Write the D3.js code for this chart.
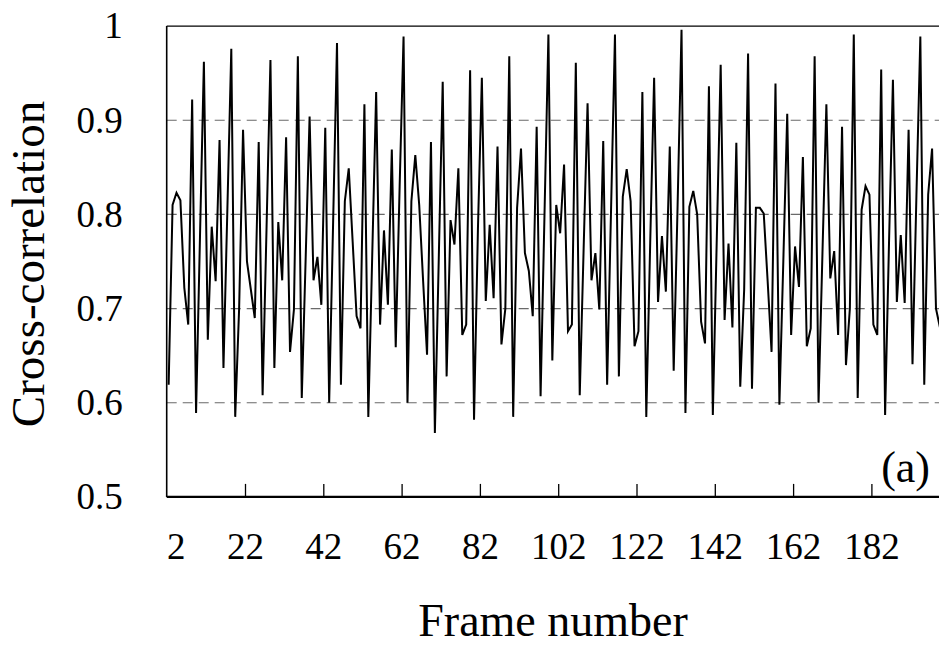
<!DOCTYPE html>
<html><head><meta charset="utf-8">
<script src="https://cdn.jsdelivr.net/npm/d3@7/dist/d3.min.js"></script>
<style>body{margin:0;background:#fff}svg{display:block}</style>
</head><body><svg id="c" width="939" height="652"></svg>
<script>
const firstFrame = 2;
const values = [
0.619,0.810,0.823,0.815,0.722,0.683,0.922,0.589,0.776,0.962,
0.667,0.787,0.729,0.879,0.637,0.806,0.976,0.585,0.700,0.890,
0.750,0.720,0.690,0.877,0.608,0.785,0.964,0.637,0.792,0.730,
0.882,0.654,0.699,0.968,0.605,0.754,0.904,0.730,0.755,0.704,
0.892,0.600,0.790,0.982,0.619,0.814,0.849,0.771,0.692,0.679,
0.917,0.585,0.757,0.930,0.683,0.783,0.704,0.869,0.659,0.830,
0.989,0.600,0.814,0.863,0.810,0.729,0.651,0.877,0.568,0.754,
0.941,0.628,0.794,0.768,0.849,0.672,0.683,0.953,0.582,0.785,
0.945,0.708,0.789,0.711,0.872,0.662,0.700,0.968,0.585,0.807,
0.870,0.759,0.740,0.692,0.893,0.607,0.800,0.991,0.645,0.810,
0.780,0.853,0.676,0.683,0.961,0.608,0.764,0.918,0.730,0.759,
0.699,0.878,0.619,0.805,0.991,0.628,0.819,0.848,0.814,0.660,
0.676,0.930,0.585,0.770,0.945,0.707,0.777,0.718,0.872,0.634,
0.810,0.996,0.589,0.808,0.825,0.800,0.686,0.663,0.936,0.587,
0.773,0.959,0.688,0.769,0.680,0.876,0.617,0.720,0.971,0.615,
0.807,0.807,0.801,0.729,0.654,0.939,0.598,0.750,0.907,0.672,
0.766,0.723,0.861,0.660,0.679,0.968,0.600,0.759,0.917,0.732,
0.761,0.672,0.893,0.640,0.700,0.991,0.605,0.805,0.830,0.821,
0.683,0.672,0.954,0.587,0.770,0.943,0.707,0.778,0.706,0.890,
0.641,0.820,0.989,0.619,0.821,0.870,0.700,0.680
];
const frames = values.map((v,i)=>firstFrame+i);
const xTickFrames = [2,22,42,62,82,102,122,142,162,182];
const yTicks = [0.5,0.6,0.7,0.8,0.9,1];
const yTickLabels = ["0.5","0.6","0.7","0.8","0.9","1"];
const gridVals = [0.6,0.7,0.8,0.9];

(function(){
const svg = d3.select("#c");
const W = 3.915;
const pLeft = 166.7, pTop = 26.1, pBottom = 496.9;
const x = d3.scaleLinear().domain([firstFrame-0.5, firstFrame-0.5+200]).range([pLeft, pLeft+200*W]);
const y = d3.scaleLinear().domain([0.5,1]).range([pBottom, pTop]);
const pRight = x.range()[1];
const font = "'Liberation Serif','Times New Roman',serif";

svg.append("g").selectAll("line").data(gridVals).join("line")
  .attr("x1", pLeft).attr("x2", pRight)
  .attr("y1", d=>y(d)).attr("y2", d=>y(d))
  .attr("stroke","#6a6a6a").attr("stroke-width",1.2).attr("stroke-dasharray","10,6");

svg.append("path").datum(values)
  .attr("fill","none").attr("stroke","#000").attr("stroke-width",2)
  .attr("stroke-linejoin","miter")
  .attr("d", d3.line().x((d,i)=>x(frames[i])).y(d=>y(d)));

svg.append("line").attr("x1",pLeft).attr("x2",pRight).attr("y1",pTop).attr("y2",pTop)
  .attr("stroke","#000").attr("stroke-width",1.3);
svg.append("line").attr("x1",pLeft).attr("x2",pLeft).attr("y1",pTop).attr("y2",pBottom)
  .attr("stroke","#000").attr("stroke-width",1.6);

const xAxis = svg.append("g").attr("transform",`translate(0,${pBottom})`)
  .call(d3.axisBottom(x).tickValues(xTickFrames.slice(1).map(f=>f-0.5)).tickSize(-13).tickFormat(""));
xAxis.select(".domain").attr("stroke","#000").attr("stroke-width",2.2).attr("d",`M${pLeft},0H${pRight}`);
xAxis.selectAll(".tick line").attr("stroke","#000").attr("stroke-width",1.3);

const xLab = svg.append("g").attr("transform",`translate(0,${pBottom})`)
  .call(d3.axisBottom(x).tickValues(xTickFrames.map(f=>f-0.5)).tickSize(0).tickPadding(36)
    .tickFormat((d,i)=>String(xTickFrames[i])));
xLab.select(".domain").remove();
xLab.selectAll("text").attr("font-family",font).attr("font-size",37).attr("fill","#000")
  .attr("dx",(d,i)=>i===0?9:0);

const yAx = svg.append("g").attr("transform",`translate(${pLeft},0)`)
  .call(d3.axisLeft(y).tickValues(yTicks).tickSize(0).tickPadding(44)
    .tickFormat((d,i)=>yTickLabels[i]));
yAx.select(".domain").remove();
yAx.selectAll("text").attr("font-family",font).attr("font-size",37).attr("fill","#000");

svg.append("text").attr("x",553).attr("y",636).attr("text-anchor","middle")
  .attr("font-family",font).attr("font-size",46).text("Frame number");
svg.append("text").attr("transform","translate(44,264) rotate(-90)").attr("text-anchor","middle")
  .attr("font-family",font).attr("font-size",47).text("Cross-correlation");
svg.append("text").attr("x",930).attr("y",482).attr("text-anchor","end")
  .attr("font-family",font).attr("font-size",44).text("(a)");
})();
</script></body></html>
